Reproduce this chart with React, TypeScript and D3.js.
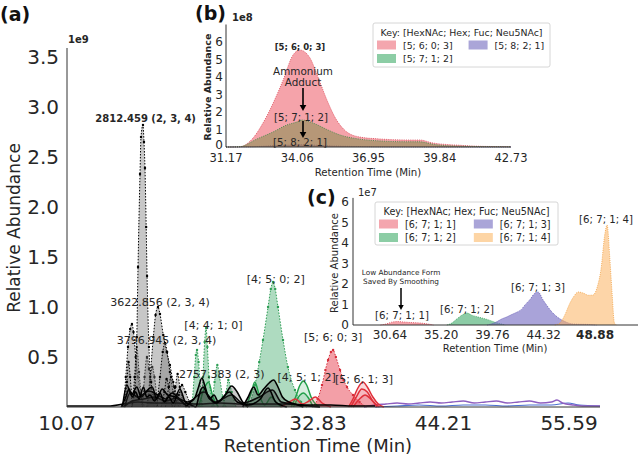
import React from "react";
import * as d3 from "d3";

type Pt = [number, number];

const FONT = "DejaVu Sans, Verdana, sans-serif";
const TXT = "#262626";

// ---------- Panel (a) ----------
const A_XTICKS = [10.07, 21.45, 32.83, 44.21, 55.59];
const A_YTICKS = [0.5, 1.0, 1.5, 2.0, 2.5, 3.0, 3.5];

// grey dotted (mass-labelled) peaks, values in 1e9
const A_2812: Pt[] = [[15.9,0],[16.2,0.15],[16.4,0.7],[16.51,1.4],[16.69,2.33],[16.78,2.7],[16.96,2.82],[17.05,2.65],[17.14,2.39],[17.25,1.8],[17.33,1.31],[17.5,0.6],[17.7,0.25],[18.0,0.08],[18.4,0]];
const A_3622: Pt[] = [[17.3,0],[17.6,0.3],[17.9,0.7],[18.1,0.92],[18.32,1.0],[18.5,0.93],[18.8,0.72],[19.1,0.55],[19.4,0.42],[19.7,0.25],[20.0,0.12],[20.4,0]];
const A_3796: Pt[] = [[15.2,0],[15.4,0.3],[15.6,0.6],[15.8,0.78],[15.96,0.83],[16.1,0.75],[16.3,0.5],[16.5,0.3],[16.8,0.12],[17.1,0]];
const A_G4: Pt[] = [[18.2,0],[18.5,0.3],[18.75,0.55],[18.96,0.64],[19.15,0.55],[19.4,0.35],[19.7,0.15],[20.0,0.05],[20.3,0]];
const A_G5: Pt[] = [[16.9,0],[17.1,0.3],[17.32,0.5],[17.5,0.38],[17.7,0.18],[18.0,0]];
const A_G6: Pt[] = [[16.0,0],[16.2,0.3],[16.4,0.6],[16.6,0.35],[16.9,0]];
const A_G7: Pt[] = [[17.4,0],[17.6,0.25],[17.8,0.4],[18.0,0.3],[18.3,0]];
const A_G8: Pt[] = [[19.0,0],[19.3,0.2],[19.5,0.3],[19.8,0.2],[20.2,0]];
const A_G9: Pt[] = [[15.3,0],[15.5,0.25],[15.65,0.45],[15.8,0.3],[16.0,0]];
const A_G10: Pt[] = [[18.6,0],[18.9,0.15],[19.1,0.28],[19.3,0.2],[19.6,0]];
const A_G11: Pt[] = [[19.6,0],[19.9,0.2],[20.1,0.33],[20.3,0.2],[20.7,0]];
const A_2757: Pt[] = [[19.8,0],[20.2,0.12],[20.5,0.22],[20.8,0.15],[21.2,0.05],[21.6,0]];

// green dotted peaks
const A_4410a: Pt[] = [[21.4,0],[21.6,0.3],[21.75,0.52],[21.86,0.57],[22.0,0.45],[22.2,0.15],[22.4,0]];
const A_4410b: Pt[] = [[22.2,0],[22.4,0.3],[22.55,0.65],[22.68,0.79],[22.8,0.6],[22.95,0.3],[23.2,0.08],[23.5,0]];
const A_4410c: Pt[] = [[23.2,0],[23.45,0.25],[23.7,0.42],[23.9,0.3],[24.2,0.1],[24.5,0]];
const A_4410d: Pt[] = [[24.2,0],[24.5,0.15],[24.7,0.27],[25.0,0.15],[25.4,0]];
const A_4502: Pt[] = [[26.5,0],[27.12,0.22],[27.5,0.45],[27.84,0.67],[28.3,1.0],[28.55,1.18],[28.75,1.25],[28.95,1.18],[29.2,1.0],[29.66,0.67],[30.1,0.4],[30.74,0.17],[31.3,0.05],[31.8,0]];

// red dotted
const A_5603: Pt[] = [[32.3,0],[32.8,0.08],[33.19,0.22],[33.5,0.37],[33.74,0.47],[34.0,0.55],[34.2,0.57],[34.45,0.5],[34.83,0.37],[35.15,0.27],[35.46,0.2],[36.0,0.12],[36.6,0.05],[37.2,0]];

// black solid traces
const A_K1: Pt[] = [[15.0,0],[15.4,0.1],[15.7,0.18],[16.0,0.1],[16.3,0.15],[16.6,0.08],[17.0,0.2],[17.3,0.1],[17.6,0.12],[18.0,0.06],[18.5,0.14],[18.9,0.05],[19.3,0.1],[19.7,0.04],[20.3,0.18],[20.8,0.05],[21.3,0.02],[21.8,0]];
const A_K2: Pt[] = [[20.8,0],[21.3,0.05],[21.7,0.1],[22.0,0.2],[22.3,0.29],[22.6,0.2],[23.0,0.08],[23.4,0.12],[23.8,0.05],[24.3,0.1],[25.0,0.21],[25.5,0.15],[26.0,0.05],[26.5,0]];
const A_K3: Pt[] = [[26.0,0],[26.5,0.1],[27.0,0.2],[27.4,0.12],[27.9,0.18],[28.4,0.24],[28.8,0.27],[29.2,0.2],[29.6,0.1],[30.2,0.05],[31.0,0.02],[31.5,0]];
const A_K4: Pt[] = [[15.2,0],[16,0.06],[17,0.08],[18,0.1],[19,0.06],[20,0.09],[21,0.05],[22.5,0.15],[23.5,0.05],[25,0.12],[26,0.04],[27.5,0.1],[28.7,0.17],[29.5,0.05],[30.5,0.03],[32,0.01],[33,0]];
const A_K5: Pt[] = [[21.8,0],[22.4,0.2],[22.9,0.1],[23.6,0.04],[24.8,0.15],[25.5,0.05],[26.5,0.02],[27.6,0.08],[28.3,0.19],[29,0.05],[30,0]];
const A_K6: Pt[] = [[10.07,0.01],[12,0.01],[14,0.01],[15.2,0.03],[16.5,0.05],[18,0.04],[20,0.04],[22,0.03],[24,0.04],[26,0.03],[28,0.03],[30,0.03],[32,0.02],[34,0.02],[36,0.01],[38,0.01]];
const A_K7: Pt[] = [[15.1,0],[15.5,0.22],[15.9,0.12],[16.4,0.2],[16.8,0.1],[17.2,0.15],[17.8,0.2],[18.2,0.08],[18.7,0.18],[19.2,0.12],[19.9,0.1],[20.4,0.06],[21,0]];
const A_K8: Pt[] = [[15.3,0],[15.8,0.14],[16.5,0.1],[17.5,0.16],[18.3,0.12],[19.0,0.08],[19.6,0.14],[20.1,0.1],[20.7,0.03],[21.2,0]];

// green solid traces
const A_4512: Pt[] = [[30.4,0],[30.8,0.1],[31.2,0.22],[31.5,0.26],[31.8,0.22],[32.2,0.1],[32.6,0.03],[33,0]];
const A_GS2: Pt[] = [[30.6,0],[31.2,0.12],[31.5,0.14],[31.9,0.1],[32.4,0]];
const A_GS3: Pt[] = [[26.3,0],[26.8,0.15],[27.1,0.25],[27.5,0.12],[28,0.02],[28.6,0.1],[29.0,0.05],[29.5,0]];
const A_GS4: Pt[] = [[22.0,0],[22.5,0.18],[22.9,0.25],[23.3,0.1],[23.8,0]];

// red solid traces
const A_5613: Pt[] = [[35.6,0],[36.0,0.08],[36.4,0.18],[36.9,0.25],[37.3,0.2],[37.8,0.1],[38.3,0.03],[38.8,0]];
const A_R2: Pt[] = [[35.8,0],[36.3,0.1],[36.8,0.18],[37.3,0.15],[37.8,0.06],[38.4,0]];
const A_R3: Pt[] = [[36,0],[36.6,0.08],[37.1,0.12],[37.6,0.08],[38.2,0]];
const A_R4: Pt[] = [[29.5,0],[30.2,0.05],[30.8,0.08],[31.4,0.03],[32.0,0.06],[32.6,0.1],[33.2,0.04],[34,0]];

// purple / blue tails
const A_P1: Pt[] = [[37,0],[38,0.02],[39,0.03],[40,0.04],[41,0.03],[42,0.04],[43,0.05],[44,0.04],[45,0.05],[46,0.06],[47,0.04],[48,0.05],[49,0.06],[50,0.04],[51,0.05],[52,0.06],[53,0.04],[54,0.05],[54.5,0.07],[55,0.04],[56,0.02],[57,0.01],[58.4,0.01]];
const A_B1: Pt[] = [[38,0],[40,0.01],[42,0.02],[44,0.01],[46,0.02],[48,0.02],[50,0.01],[52,0.02],[54,0.02],[55.5,0.04],[56.5,0.02],[58.4,0.01]];

const A_LABELS: { t: string; x: number; y: number; bold?: boolean }[] = [
  { t: "2812.459 (2, 3, 4)", x: 17.2, y: 2.89, bold: true },
  { t: "3622.856 (2, 3, 4)", x: 18.5, y: 1.05 },
  { t: "3796.945 (2, 3, 4)", x: 19.1, y: 0.67 },
  { t: "[4; 4; 1; 0]", x: 23.35, y: 0.82 },
  { t: "2757.383 (2, 3)", x: 24.1, y: 0.33 },
  { t: "[4; 5; 0; 2]", x: 29.0, y: 1.28 },
  { t: "[5; 6; 0; 3]", x: 34.2, y: 0.7 },
  { t: "[4; 5; 1; 2]", x: 31.8, y: 0.3 },
  { t: "[5; 6; 1; 3]", x: 37.0, y: 0.28 },
];

// ---------- Panel (b) ----------
const B_XTICKS = [31.17, 34.06, 36.95, 39.84, 42.73];
const B_YTICKS = [0, 1, 2, 3, 4, 5, 6];
const B_5603: Pt[] = [[31.17,0],[31.74,0.02],[32.3,0.57],[32.67,1.37],[33.08,2.5],[33.48,3.8],[33.89,5.26],[34.17,5.54],[34.57,5.1],[34.9,4.0],[35.26,2.7],[35.59,1.7],[36.07,0.86],[36.6,0.57],[37.41,0.46],[38.51,0.4],[39.03,0.4],[39.56,0.23],[40.65,0.1],[41.5,0.04],[42.73,0.02]];
const B_5712: Pt[] = [[31.17,0],[31.74,0.02],[32.43,0.46],[33.08,0.86],[33.64,1.26],[34.05,1.43],[34.25,1.54],[34.7,1.37],[35.26,1.0],[35.79,0.69],[36.6,0.45],[37.4,0.35],[38.5,0.3],[39.0,0.3],[39.6,0.15],[40.6,0.05],[42.73,0.01]];
const B_5821: Pt[] = [[31.17,0],[32.3,0.02],[33.0,0.07],[33.6,0.1],[34.2,0.13],[34.8,0.1],[35.5,0.06],[36.5,0.03],[38,0.01],[42.73,0]];

// ---------- Panel (c) ----------
const C_XTICKS = [30.64, 35.20, 39.76, 44.32, 48.88];
const C_YTICKS = [0, 1, 2, 3, 4, 5, 6];
const C_6711: Pt[] = [[29.8,0],[30.3,0.05],[30.8,0.14],[31.3,0.17],[31.8,0.15],[32.5,0.12],[33.3,0.1],[34.0,0.05],[34.5,0]];
const C_6712: Pt[] = [[35.7,0],[36.1,0.08],[36.6,0.3],[37.1,0.5],[37.5,0.58],[37.9,0.48],[38.4,0.4],[38.9,0.33],[39.4,0.25],[39.9,0.15],[40.4,0.07],[40.9,0]];
const C_6713: Pt[] = [[39.3,0],[40.0,0.12],[40.6,0.3],[41.05,0.4],[41.5,0.52],[41.94,0.63],[42.3,0.75],[42.65,0.98],[43.1,1.25],[43.54,1.56],[43.81,1.61],[44.26,1.22],[44.6,0.95],[45.05,0.63],[45.5,0.4],[45.94,0.24],[46.4,0.12],[46.92,0.05],[48.5,0.02],[49,0]];
const C_6714: Pt[] = [[45.3,0],[45.77,0.1],[46.2,0.5],[46.65,1.07],[47.0,1.4],[47.37,1.61],[47.81,1.56],[48.3,1.45],[48.7,1.46],[49.1,1.9],[49.4,2.68],[49.77,4.5],[49.95,4.88],[50.2,3.2],[50.4,1.5],[50.6,0.1],[50.8,0]];

const KEY_TITLE = "Key: [HexNAc; Hex; Fuc; Neu5NAc]";

type Style = {
  fill?: string; fillOpacity?: number; stroke: string; strokeWidth: number;
  dash?: string; dot?: string;
};

const ST: Record<string, Style> = {
  greyDot: { fill: "#7a7a7a", fillOpacity: 0.42, stroke: "#000", strokeWidth: 1, dash: "1.5,1.5", dot: "#000" },
  greenDot: { fill: "#3faa6a", fillOpacity: 0.42, stroke: "#2e9e55", strokeWidth: 1, dash: "1.5,1.5", dot: "#2e9e55" },
  redDot: { fill: "#e8404f", fillOpacity: 0.5, stroke: "#d62d3a", strokeWidth: 1, dash: "1.5,1.5", dot: "#d62d3a" },
  black: { fill: "#2a2a2a", fillOpacity: 0.25, stroke: "#000", strokeWidth: 1.6 },
  greenLine: { fill: "#3faa6a", fillOpacity: 0.2, stroke: "#22a04b", strokeWidth: 1.5 },
  redLine: { fill: "#e8404f", fillOpacity: 0.2, stroke: "#e0303a", strokeWidth: 1.5 },
  purple: { stroke: "#8e5fc0", strokeWidth: 1.4 },
  blue: { stroke: "#4a6fd0", strokeWidth: 1.2 },
  bRed: { fill: "#ee6672", fillOpacity: 0.6, stroke: "#d94050", strokeWidth: 0.8, dash: "1,1.2" },
  bGreen: { fill: "#6b8a3a", fillOpacity: 0.45, stroke: "#3f8a4a", strokeWidth: 0.9, dash: "1,1.2" },
  bBlue: { fill: "#6a62c0", fillOpacity: 0.7, stroke: "#4a40b0", strokeWidth: 0.9, dash: "1,1.2" },
  cRed: { fill: "#ee6672", fillOpacity: 0.6, stroke: "#d94050", strokeWidth: 0.8, dash: "1,1.2" },
  cGreen: { fill: "#3faa6a", fillOpacity: 0.6, stroke: "#2e9e55", strokeWidth: 0.8, dash: "1,1.2" },
  cBlue: { fill: "#7b72c4", fillOpacity: 0.65, stroke: "#5a50b0", strokeWidth: 0.8, dash: "1,1.2" },
  cOrange: { fill: "#fbb360", fillOpacity: 0.55, stroke: "#f0a040", strokeWidth: 0.8, dash: "1,1.2" },
};

const LEG = {
  red: "#f4a6ae",
  green: "#8ccda5",
  blue: "#aaa5d8",
  orange: "#fdd5a5",
};

type Sc = d3.ScaleLinear<number, number>;

function Trace({ data, x, y, s }: { data: Pt[]; x: Sc; y: Sc; s: Style }) {
  const area = d3.area<Pt>().x((d) => x(d[0])).y0(y(0)).y1((d) => y(d[1])).curve(d3.curveMonotoneX);
  const line = d3.line<Pt>().x((d) => x(d[0])).y((d) => y(d[1])).curve(d3.curveMonotoneX);
  return (
    <g>
      {s.fill && <path d={area(data) || ""} fill={s.fill} fillOpacity={s.fillOpacity} stroke="none" />}
      <path d={line(data) || ""} fill="none" stroke={s.stroke} strokeWidth={s.strokeWidth} strokeDasharray={s.dash} strokeLinejoin="round" />
      {s.dot && data.filter((d) => d[1] > 0.02).map((d, i) => (
        <circle key={i} cx={x(d[0])} cy={y(d[1])} r={1.2} fill={s.dot} />
      ))}
    </g>
  );
}

function Arrow({ x, y1, y2, w = 1.6, head = 6 }: { x: number; y1: number; y2: number; w?: number; head?: number }) {
  return (
    <g>
      <line x1={x} x2={x} y1={y1} y2={y2 - head} stroke="#000" strokeWidth={w} />
      <path d={`M${x - head * 0.55},${y2 - head} L${x + head * 0.55},${y2 - head} L${x},${y2} Z`} fill="#000" />
    </g>
  );
}

function Legend({ x0, y0, w, h, entries, fs }: {
  x0: number; y0: number; w: number; h: number; fs: number;
  entries: { label: string; color: string; col: number; row: number }[];
}) {
  const colX = [x0 + 4, x0 + w * 0.54];
  return (
    <g fontFamily={FONT} fontSize={fs} fill={TXT}>
      <rect x={x0} y={y0} width={w} height={h} rx={2} fill="#fff" fillOpacity={0.85} stroke="#cccccc" strokeWidth={0.8} />
      <text x={x0 + w / 2} y={y0 + 9} textAnchor="middle" dominantBaseline="central">{KEY_TITLE}</text>
      {entries.map((e, i) => {
        const yy = y0 + 22 + e.row * 13.5;
        const xx = colX[e.col];
        return (
          <g key={i}>
            <rect x={xx} y={yy - 4.5} width={19} height={9} fill={e.color} />
            <text x={xx + 26} y={yy} dominantBaseline="central">{e.label}</text>
          </g>
        );
      })}
    </g>
  );
}

export default function App() {
  // panel (a)
  const xa = d3.scaleLinear().domain([10.07, 58.4]).range([67, 600]);
  const ya = d3.scaleLinear().domain([0, 3.59]).range([407, 48]);
  // panel (b)
  const xb = d3.scaleLinear().domain([31.17, 42.73]).range([226, 511]);
  const yb = d3.scaleLinear().domain([0, 7]).range([147, 24.5]);
  // panel (c)
  const xc = d3.scaleLinear().domain([27.35, 52.7]).range([353, 638]);
  const yc = d3.scaleLinear().domain([0, 6.2]).range([325, 197.9]);

  const aTraces: [Pt[], Style][] = [
    [A_B1, ST.blue], [A_P1, ST.purple],
    [A_3796, ST.greyDot], [A_G9, ST.greyDot], [A_G6, ST.greyDot], [A_G5, ST.greyDot], [A_G7, ST.greyDot],
    [A_3622, ST.greyDot], [A_G4, ST.greyDot], [A_G10, ST.greyDot], [A_G8, ST.greyDot], [A_G11, ST.greyDot], [A_2757, ST.greyDot],
    [A_2812, ST.greyDot],
    [A_4410a, ST.greenDot], [A_4410b, ST.greenDot], [A_4410c, ST.greenDot], [A_4410d, ST.greenDot], [A_4502, ST.greenDot],
    [A_5603, ST.redDot],
    [A_GS3, ST.greenLine], [A_GS4, ST.greenLine], [A_4512, ST.greenLine], [A_GS2, ST.greenLine],
    [A_R4, ST.redLine], [A_5613, ST.redLine], [A_R2, ST.redLine], [A_R3, ST.redLine],
    [A_K6, ST.black], [A_K4, ST.black], [A_K8, ST.black], [A_K7, ST.black], [A_K1, ST.black], [A_K2, ST.black], [A_K3, ST.black], [A_K5, ST.black],
  ];

  return (
    <div style={{ position: "fixed", left: 0, top: 0 }}>
      <svg width={638} height={454} style={{ display: "block", background: "#fff" }} fontFamily={FONT}>
        {/* ===== Panel (a) ===== */}
        <g>
          {aTraces.map(([d, s], i) => <Trace key={i} data={d} x={xa} y={ya} s={s} />)}
          <line x1={67} x2={67} y1={ya(3.59)} y2={ya(0)} stroke="#333" strokeWidth={1} />
          <line x1={67} x2={600} y1={ya(0)} y2={ya(0)} stroke="#333" strokeWidth={1} />
          {A_YTICKS.map((t) => (
            <text key={t} x={59} y={ya(t)} textAnchor="end" dominantBaseline="central" fontSize={20} fill={TXT}>{t.toFixed(1)}</text>
          ))}
          {A_XTICKS.map((t) => (
            <text key={t} x={xa(t)} y={423} textAnchor="middle" dominantBaseline="central" fontSize={20} fill={TXT}>{t.toFixed(2)}</text>
          ))}
          <text x={68} y={43} fontSize={10} fill={TXT} fontWeight="bold">1e9</text>
          <text x={318} y={445} textAnchor="middle" dominantBaseline="central" fontSize={18} fill={TXT}>Retention Time (Min)</text>
          <text transform={`translate(14,228) rotate(-90)`} textAnchor="middle" dominantBaseline="central" fontSize={17} fill={TXT}>Relative Abundance</text>
          {A_LABELS.map((l, i) => (
            <text key={i} x={xa(l.x)} y={ya(l.y)} textAnchor="middle" dominantBaseline="central" fontSize={l.bold ? 10 : 11} fontWeight={l.bold ? "bold" : "normal"} fill={TXT}>{l.t}</text>
          ))}
          <text x={0} y={14} dominantBaseline="central" fontSize={19} fontWeight="bold" fill="#111">(a)</text>
        </g>

        {/* ===== Panel (b) ===== */}
        <g>
          <Trace data={B_5821} x={xb} y={yb} s={ST.bBlue} />
          <Trace data={B_5603} x={xb} y={yb} s={ST.bRed} />
          <Trace data={B_5712} x={xb} y={yb} s={ST.bGreen} />
          <line x1={226} x2={226} y1={yb(7)} y2={yb(0)} stroke="#333" strokeWidth={1} />
          <line x1={226} x2={511} y1={yb(0)} y2={yb(0)} stroke="#333" strokeWidth={1} />
          {B_YTICKS.map((t) => (
            <text key={t} x={223} y={yb(t) - (t === 0 ? 2 : 0)} textAnchor="end" dominantBaseline="central" fontSize={12} fill={TXT}>{t}</text>
          ))}
          {B_XTICKS.map((t) => (
            <text key={t} x={xb(t)} y={158} textAnchor="middle" dominantBaseline="central" fontSize={11.5} fill={TXT}>{t.toFixed(2)}</text>
          ))}
          <text x={232} y={21} fontSize={10} fontWeight="bold" fill={TXT}>1e8</text>
          <text x={368} y={172} textAnchor="middle" dominantBaseline="central" fontSize={10.2} fill={TXT}>Retention Time (Min)</text>
          <text transform={`translate(207,87) rotate(-90)`} textAnchor="middle" dominantBaseline="central" fontSize={9.5} fontWeight="bold" fill={TXT}>Relative Abundance</text>
          <text x={300} y={47} textAnchor="middle" dominantBaseline="central" fontSize={8.5} fontWeight="bold" fill={TXT}>[5; 6; 0; 3]</text>
          <text x={303} y={71} textAnchor="middle" dominantBaseline="central" fontSize={10.4} fill={TXT}>Ammonium</text>
          <text x={303} y={82} textAnchor="middle" dominantBaseline="central" fontSize={10.4} fill={TXT}>Adduct</text>
          <Arrow x={303} y1={88} y2={111} />
          <text x={301} y={117} textAnchor="middle" dominantBaseline="central" fontSize={10.2} fill={TXT}>[5; 7; 1; 2]</text>
          <Arrow x={303} y1={121} y2={138} />
          <text x={300} y={142} textAnchor="middle" dominantBaseline="central" fontSize={10.2} fill={TXT}>[5; 8; 2; 1]</text>
          <Legend x0={373} y0={23} w={177} h={44} fs={9.4} entries={[
            { label: "[5; 6; 0; 3]", color: LEG.red, col: 0, row: 0 },
            { label: "[5; 7; 1; 2]", color: LEG.green, col: 0, row: 1 },
            { label: "[5; 8; 2; 1]", color: LEG.blue, col: 1, row: 0 },
          ]} />
          <text x={195} y={13} dominantBaseline="central" fontSize={19} fontWeight="bold" fill="#111">(b)</text>
        </g>

        {/* ===== Panel (c) ===== */}
        <g>
          <Trace data={C_6711} x={xc} y={yc} s={ST.cRed} />
          <Trace data={C_6712} x={xc} y={yc} s={ST.cGreen} />
          <Trace data={C_6713} x={xc} y={yc} s={ST.cBlue} />
          <Trace data={C_6714} x={xc} y={yc} s={ST.cOrange} />
          <line x1={353} x2={353} y1={yc(6.2)} y2={yc(0)} stroke="#333" strokeWidth={1} />
          <line x1={353} x2={638} y1={yc(0)} y2={yc(0)} stroke="#333" strokeWidth={1} />
          {C_YTICKS.map((t) => (
            <text key={t} x={349} y={yc(t)} textAnchor="end" dominantBaseline="central" fontSize={12} fill={TXT}>{t}</text>
          ))}
          {C_XTICKS.map((t, i) => (
            <text key={t} x={xc(t)} y={335} textAnchor="middle" dominantBaseline="central" fontSize={12} fontWeight={i === C_XTICKS.length - 1 ? "bold" : "normal"} fill={TXT}>{t.toFixed(2)}</text>
          ))}
          <text x={358} y={196} fontSize={10} fill={TXT}>1e7</text>
          <text x={495} y={348} textAnchor="middle" dominantBaseline="central" fontSize={10} fill={TXT}>Retention Time (Min)</text>
          <text transform={`translate(334,263) rotate(-90)`} textAnchor="middle" dominantBaseline="central" fontSize={10} fill={TXT}>Relative Abundance</text>
          <text x={606} y={219} textAnchor="middle" dominantBaseline="central" fontSize={10.2} fill={TXT}>[6; 7; 1; 4]</text>
          <text x={538} y={287} textAnchor="middle" dominantBaseline="central" fontSize={10.2} fill={TXT}>[6; 7; 1; 3]</text>
          <text x={467} y={309} textAnchor="middle" dominantBaseline="central" fontSize={10.2} fill={TXT}>[6; 7; 1; 2]</text>
          <text x={402} y={315} textAnchor="middle" dominantBaseline="central" fontSize={10.2} fill={TXT}>[6; 7; 1; 1]</text>
          <text x={401} y={272} textAnchor="middle" dominantBaseline="central" fontSize={7.3} fill={TXT}>Low Abundance Form</text>
          <text x={401} y={281} textAnchor="middle" dominantBaseline="central" fontSize={7.3} fill={TXT}>Saved By Smoothing</text>
          <Arrow x={401} y1={288} y2={310} w={1.5} head={5} />
          <Legend x0={375} y0={202} w={183} h={43} fs={9.6} entries={[
            { label: "[6; 7; 1; 1]", color: LEG.red, col: 0, row: 0 },
            { label: "[6; 7; 1; 2]", color: LEG.green, col: 0, row: 1 },
            { label: "[6; 7; 1; 3]", color: LEG.blue, col: 1, row: 0 },
            { label: "[6; 7; 1; 4]", color: LEG.orange, col: 1, row: 1 },
          ]} />
          <text x={307} y={197} dominantBaseline="central" fontSize={19} fontWeight="bold" fill="#111">(c)</text>
        </g>
      </svg>
    </div>
  );
}
